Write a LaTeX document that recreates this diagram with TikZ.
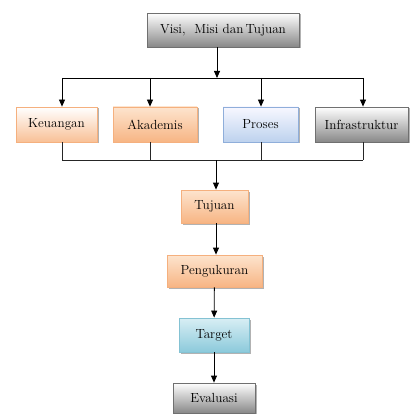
\documentclass[tikz,border=0pt]{standalone}
\usetikzlibrary{positioning,calc,arrows.meta,shadows}
\definecolor{peachlo}{HTML}{F7B584}
\definecolor{peachhi}{HTML}{FDE4CE}
\definecolor{peachln}{HTML}{F5B07E}
\definecolor{bluelo}{HTML}{BDD2EE}
\definecolor{blueln}{HTML}{8FAEDA}
\definecolor{cyanlo}{HTML}{8CCADB}
\definecolor{cyanhi}{HTML}{D8EEF4}
\definecolor{cyanln}{HTML}{84C2D3}
\definecolor{greylo}{HTML}{888888}
\definecolor{greyln}{HTML}{707070}
\tikzstyle{block} = [draw, rectangle, inner sep=0pt, font=\fontsize{13.2}{15}\selectfont,
    drop shadow={shadow xshift=1.5pt, shadow yshift=-1.5pt, opacity=0.3, fill=black}]
\tikzstyle{peach} = [block, draw=peachln, top color=peachhi, bottom color=peachlo]
\tikzstyle{pale} = [block, draw=peachln, top color=white, bottom color=peachlo!85]
\tikzstyle{sky} = [block, draw=blueln, top color=blue!3, bottom color=bluelo]
\tikzstyle{aqua} = [block, draw=cyanln, top color=cyanhi, bottom color=cyanlo]
\tikzstyle{steel} = [block, draw=greyln, top color=white, bottom color=greylo]
\tikzstyle{input} = [coordinate]

\begin{document}
\begin{tikzpicture}[x=1pt, y=-1pt, >={Triangle[length=7pt,width=6pt]}, line width=0.8pt]
    \useasboundingbox (0,0) rectangle (409,414);

    % top of the chart
    \node [steel, minimum width=152pt, minimum height=34pt] (visi) at (223,30) {Visi,\ \ Misi dan\,Tujuan};

    % four perspectives
    \node [pale, minimum width=81pt, minimum height=35pt] (keu) at (56.5,124.5) {Keuangan};
    \node [peach, minimum width=84pt, minimum height=35pt] (aka) at (155,124.5) {Akademis};
    \node [sky, minimum width=75pt, minimum height=35pt] (pro) at (260.5,124.5) {Proses};
    \node [steel, minimum width=93pt, minimum height=35pt] (inf) at (361.5,124.5) {Infrastruktur};

    % lower column
    \node [peach, minimum width=67pt, minimum height=33pt] (tuj) at (214.5,206.5) {Tujuan};
    \node [peach, minimum width=95pt, minimum height=32pt] (peng) at (214.5,271) {Pengukuran};
    \node [aqua, minimum width=70pt, minimum height=34pt] (tar) at (214,335) {Target};
    \node [steel, minimum width=82pt, minimum height=30pt] (eva) at (214,398) {Evaluasi};

    \node [input] (top) at (217,78) {};
    \node [input] (bot) at (216,160) {};

    \draw [->] (visi.south -| top) -- (top);
    \draw (62,78) -- (363,78);
    \draw [black!85] (62,160) -- (363,160);
    \foreach \n/\x in {keu/62, aka/150, pro/261, inf/363} {
        \node [input] (t\n) at (\x,78) {};
        \draw [->] (t\n) -- (t\n |- \n.north);
        \draw [black!85] (\n.south -| t\n) -- (t\n |- bot);
    }

    \draw [->] (bot) -- (bot |- tuj.north);
    \draw [->] (tuj.south -| bot) -- (bot |- peng.north);
    \draw [->] (peng) -- (tar);
    \draw [->] (tar) -- (eva);
\end{tikzpicture}
\end{document}
